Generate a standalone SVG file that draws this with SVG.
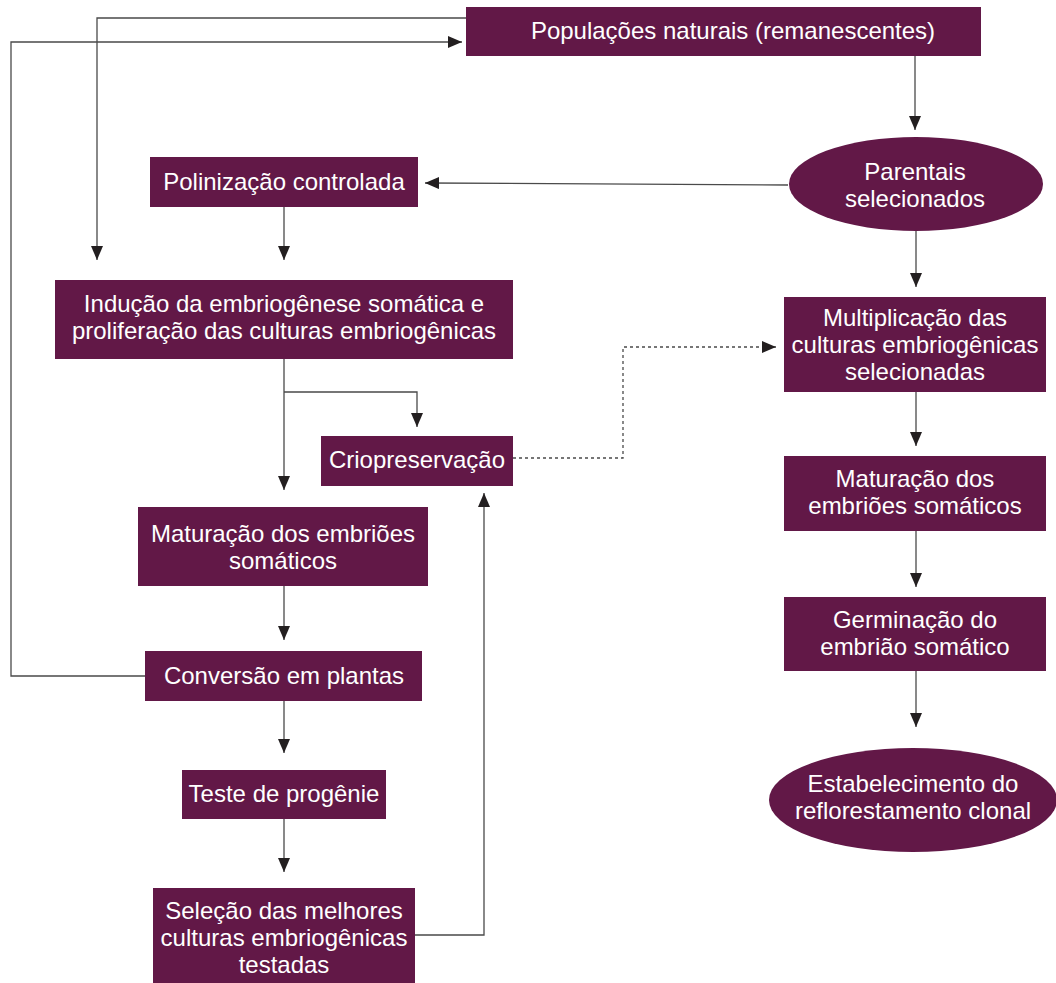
<svg xmlns="http://www.w3.org/2000/svg" width="1056" height="983" viewBox="0 0 1056 983">
<style>
.n{fill:#621847}
.t{fill:#fff;font-family:"Liberation Sans",Arial,sans-serif;font-size:24px;text-anchor:middle}
.c{fill:none;stroke:#4a4a4a;stroke-width:1.3}
.d{stroke-dasharray:3,3}
</style>
<defs>
<marker id="a" markerUnits="userSpaceOnUse" markerWidth="14" markerHeight="12" refX="14" refY="6" orient="auto">
<path d="M0,0 L14,6 L0,12 z" fill="#231f20"/>
</marker>
</defs>
<rect width="1056" height="983" fill="#fff"/>
<g id="connectors">
<path class="c" d="M466,18 H97 V260" marker-end="url(#a)"/>
<path class="c" d="M145,676 H11 V42 H462" marker-end="url(#a)"/>
<path class="c" d="M915,56 V130" marker-end="url(#a)"/>
<path class="c" d="M788,185 L425,183" marker-end="url(#a)"/>
<path class="c" d="M284,207 V260" marker-end="url(#a)"/>
<path class="c" d="M284,359 V490" marker-end="url(#a)"/>
<path class="c" d="M284,392 H417 V427" marker-end="url(#a)"/>
<path class="c d" d="M513,458 H623 V347 H776" marker-end="url(#a)"/>
<path class="c" d="M284,586 V640" marker-end="url(#a)"/>
<path class="c" d="M284,700 V753" marker-end="url(#a)"/>
<path class="c" d="M284,819 V872" marker-end="url(#a)"/>
<path class="c" d="M415,935 H484 V493" marker-end="url(#a)"/>
<path class="c" d="M916,231 V287" marker-end="url(#a)"/>
<path class="c" d="M916,392 V446" marker-end="url(#a)"/>
<path class="c" d="M916,531 V587" marker-end="url(#a)"/>
<path class="c" d="M916,671 V727" marker-end="url(#a)"/>
</g>
<g id="populacoes"><rect class="n" x="466" y="7" width="515" height="49"/><text class="t" x="733" y="39">Populações naturais (remanescentes)</text></g>
<g id="parentais"><ellipse class="n" cx="916" cy="184" rx="127" ry="47"/><text class="t" x="915" y="180">Parentais</text><text class="t" x="915" y="207">selecionados</text></g>
<g id="polinizacao"><rect class="n" x="150" y="157" width="268" height="50"/><text class="t" x="284" y="190">Polinização controlada</text></g>
<g id="inducao"><rect class="n" x="55" y="280" width="458" height="79"/><text class="t" x="284" y="312">Indução da embriogênese somática e</text><text class="t" x="284" y="339">proliferação das culturas embriogênicas</text></g>
<g id="crio"><rect class="n" x="321" y="436" width="192" height="50"/><text class="t" x="417" y="468">Criopreservação</text></g>
<g id="maturacao1"><rect class="n" x="138" y="507" width="290" height="79"/><text class="t" x="283" y="542">Maturação dos embriões</text><text class="t" x="283" y="569">somáticos</text></g>
<g id="conversao"><rect class="n" x="145" y="651" width="277" height="50"/><text class="t" x="284" y="684">Conversão em plantas</text></g>
<g id="teste"><rect class="n" x="182" y="770" width="204" height="49"/><text class="t" x="284" y="802">Teste de progênie</text></g>
<g id="selecao"><rect class="n" x="153" y="888" width="262" height="95"/><text class="t" x="284" y="919">Seleção das melhores</text><text class="t" x="284" y="946">culturas embriogênicas</text><text class="t" x="284" y="973">testadas</text></g>
<g id="multiplicacao"><rect class="n" x="784" y="297" width="262" height="95"/><text class="t" x="915" y="326">Multiplicação das</text><text class="t" x="915" y="353">culturas embriogênicas</text><text class="t" x="915" y="380">selecionadas</text></g>
<g id="maturacao2"><rect class="n" x="784" y="456" width="262" height="75"/><text class="t" x="915" y="487">Maturação dos</text><text class="t" x="915" y="514">embriões somáticos</text></g>
<g id="germinacao"><rect class="n" x="784" y="597" width="262" height="74"/><text class="t" x="915" y="628">Germinação do</text><text class="t" x="915" y="655">embrião somático</text></g>
<g id="estabelecimento"><ellipse class="n" cx="913" cy="800" rx="144" ry="52"/><text class="t" x="913" y="792">Estabelecimento do</text><text class="t" x="913" y="819">reflorestamento clonal</text></g>
</svg>
